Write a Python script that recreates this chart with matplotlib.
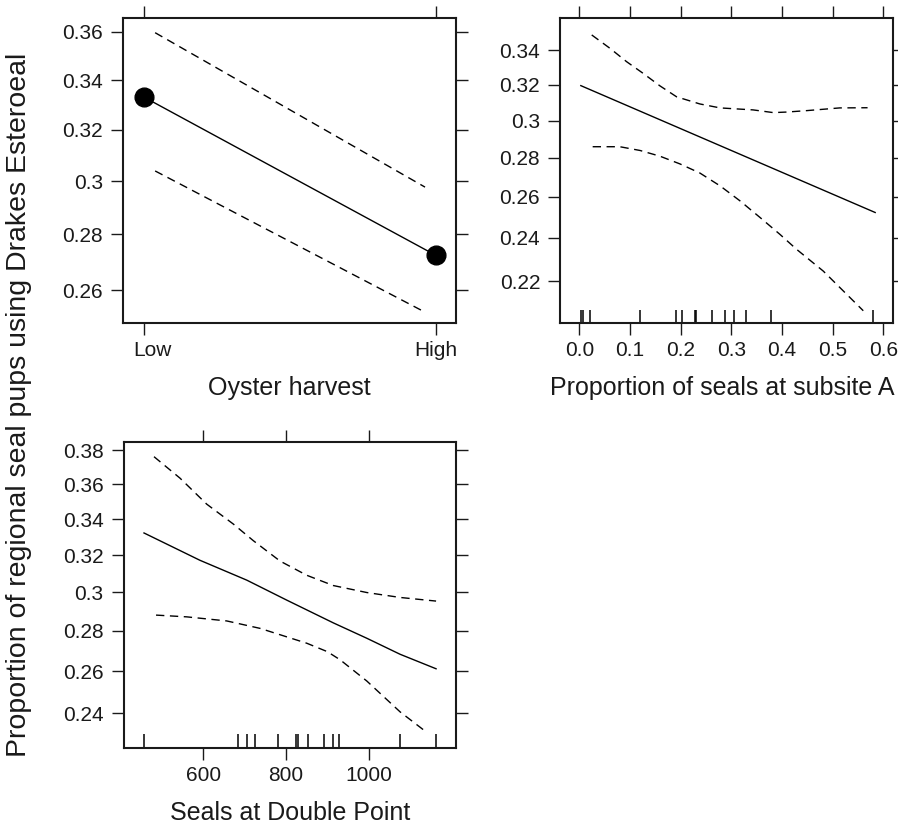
import matplotlib
matplotlib.use("Agg")
import matplotlib.pyplot as plt
import matplotlib.transforms as mtrans
from matplotlib.ticker import FixedLocator, FixedFormatter, NullLocator

plt.rcParams['font.family'] = ['Liberation Sans', 'DejaVu Sans']

# ---------------- data ----------------
harvest_levels = ['Low', 'High']
harvest_fit = [0.3331, 0.2723]
harvest_upper = [0.3597, 0.2977]
harvest_lower = [0.3039, 0.2523]

propA_fit_x = [0.003, 0.584]
propA_fit = [0.3195, 0.2522]
propA_upper_x = [0.0245, 0.0606, 0.0935, 0.126, 0.159, 0.192, 0.238, 0.278, 0.343,
                 0.383, 0.409, 0.449, 0.514, 0.569]
propA_upper = [0.3489, 0.341, 0.3332, 0.3265, 0.3194, 0.3132, 0.3092, 0.307, 0.3059,
               0.3044, 0.3047, 0.3055, 0.307, 0.3071]
propA_lower_x = [0.0264, 0.080, 0.120, 0.159, 0.199, 0.238, 0.278, 0.317, 0.357,
                 0.396, 0.429, 0.4815, 0.5605]
propA_lower = [0.2859, 0.2859, 0.2839, 0.2809, 0.2768, 0.2721, 0.2655, 0.258, 0.2497,
               0.2416, 0.2345, 0.2245, 0.207]
propA_rug = [0.003, 0.007, 0.021, 0.120, 0.191, 0.203, 0.228, 0.230, 0.262, 0.287,
             0.305, 0.329, 0.379, 0.579]

dp_fit_x = [456.5, 592, 705, 801.8, 914.5, 995.4, 1076, 1163]
dp_fit = [0.3322, 0.3171, 0.3064, 0.2958, 0.284, 0.2762, 0.2682, 0.2611]
dp_upper_x = [480.7, 543.6, 608.2, 672.6, 721, 785.6, 850.2, 914.5, 995.4, 1076, 1163]
dp_upper = [0.3761, 0.3635, 0.3485, 0.3372, 0.3279, 0.3167, 0.309, 0.3035, 0.2998, 0.2972, 0.2953]
dp_lower_x = [485.6, 559.8, 656.6, 737.2, 850.2, 900, 930.8, 995.4, 1076, 1140.5]
dp_lower = [0.2880, 0.2871, 0.285, 0.2812, 0.2737, 0.2695, 0.2655, 0.2552, 0.2407, 0.2314]
dp_rug = [456.5, 684, 705.7, 725, 781.5, 824.3, 829.1, 853.3, 892, 913.8, 928.3, 1076, 1163]

p1_yticks = [0.26, 0.28, 0.30, 0.32, 0.34, 0.36]
p1_ylabels = ['0.26', '0.28', '0.3', '0.32', '0.34', '0.36']
p2_yticks = [0.22, 0.24, 0.26, 0.28, 0.30, 0.32, 0.34]
p2_ylabels = ['0.22', '0.24', '0.26', '0.28', '0.3', '0.32', '0.34']
p2_xticks = [0.0, 0.1, 0.2, 0.3, 0.4, 0.5, 0.6]
p2_xlabels = ['0.0', '0.1', '0.2', '0.3', '0.4', '0.5', '0.6']
p3_yticks = [0.24, 0.26, 0.28, 0.30, 0.32, 0.34, 0.36, 0.38]
p3_ylabels = ['0.24', '0.26', '0.28', '0.3', '0.32', '0.34', '0.36', '0.38']
p3_xticks = [600, 800, 1000]
p3_xlabels = ['600', '800', '1000']

xlab1 = 'Oyster harvest'
xlab2 = 'Proportion of seals at subsite A'
xlab3 = 'Seals at Double Point'
ylab = 'Proportion of regional seal pups using Drakes Esteroeal'

# ---------------- style ----------------
W, H = 898, 827
fig = plt.figure(figsize=(W / 100, H / 100), dpi=100)
TICK_FS = 15
LAB_FS = 18
YLAB_FS = 20.5
DASH = (0, (6, 4))
LC = 'black'
TC = '#1a1a1a'


def make_ax(rect_px):
    l, t, r, b = rect_px
    ax = fig.add_axes([l / W, 1 - b / H, (r - l) / W, (b - t) / H])
    ax.set_yscale('logit')
    for s in ax.spines.values():
        s.set_linewidth(1.5)
        s.set_color(TC)
    ax.tick_params(which='major', direction='out', length=8.5, width=1.0,
                   top=True, right=True, labeltop=False, labelright=False,
                   labelsize=TICK_FS, pad=4.5, colors=TC)
    ax.tick_params(axis='y', pad=6)
    return ax


def set_ticks(ax, xt, xl, yt, yl):
    ax.xaxis.set_major_locator(FixedLocator(xt))
    ax.xaxis.set_major_formatter(FixedFormatter(xl))
    ax.yaxis.set_major_locator(FixedLocator(yt))
    ax.yaxis.set_major_formatter(FixedFormatter(yl))
    ax.yaxis.set_minor_locator(NullLocator())
    ax.xaxis.set_minor_locator(NullLocator())


def rug(ax, xs):
    ax.vlines(xs, 0, 0.044, transform=ax.get_xaxis_transform(), colors=LC, lw=1.1)


def xlabel(ax, text, xc=0.5):
    ax.set_xlabel(text, fontsize=LAB_FS, color=TC)
    ax.xaxis.set_label_coords(xc, -0.213)
    ax.xaxis.label.set_va('center')


# Panel 1
ax1 = make_ax((123, 18, 456, 323))
xpos = list(range(len(harvest_levels)))
ax1.plot(xpos, harvest_fit, color=LC, lw=1.0)
ax1.plot(xpos, harvest_fit, 'o', color=LC, ms=13.5)
inset = 0.038
ci_x = [xpos[0] + inset, xpos[-1] - inset]
ax1.plot(ci_x, harvest_upper, color=LC, lw=1.0, ls=DASH)
ax1.plot(ci_x, harvest_lower, color=LC, lw=1.0, ls=DASH)
ax1.set_xlim(-0.072, 1.068)
ax1.set_ylim(0.2486, 0.3659)
set_ticks(ax1, xpos, harvest_levels, p1_yticks, p1_ylabels)
xlabel(ax1, xlab1)
first = ax1.xaxis.get_major_ticks()[0]
first.label1.set_transform(first.label1.get_transform() +
                           mtrans.ScaledTranslation(8 / 100, 0, fig.dpi_scale_trans))

# Panel 2
ax2 = make_ax((560.3, 18, 892.7, 323))
ax2.plot(propA_fit_x, propA_fit, color=LC, lw=1.0)
ax2.plot(propA_upper_x, propA_upper, color=LC, lw=1.0, ls=DASH)
ax2.plot(propA_lower_x, propA_lower, color=LC, lw=1.0, ls=DASH)
rug(ax2, propA_rug)
ax2.set_xlim(-0.0375, 0.6186)
ax2.set_ylim(0.2018, 0.359)
set_ticks(ax2, p2_xticks, p2_xlabels, p2_yticks, p2_ylabels)
xlabel(ax2, xlab2, xc=0.488)

# Panel 3
ax3 = make_ax((123.7, 441.7, 456, 747.7))
ax3.plot(dp_fit_x, dp_fit, color=LC, lw=1.0)
ax3.plot(dp_upper_x, dp_upper, color=LC, lw=1.0, ls=DASH)
ax3.plot(dp_lower_x, dp_lower, color=LC, lw=1.0, ls=DASH)
rug(ax3, dp_rug)
ax3.set_xlim(407.4, 1211.2)
ax3.set_ylim(0.2246, 0.385)
set_ticks(ax3, p3_xticks, p3_xlabels, p3_yticks, p3_ylabels)
xlabel(ax3, xlab3)

fig.text(19 / W, 1 - 404.5 / H, ylab, rotation=90, fontsize=YLAB_FS,
         ha='center', va='center', color=TC)

fig.savefig('out.png', dpi=100)
